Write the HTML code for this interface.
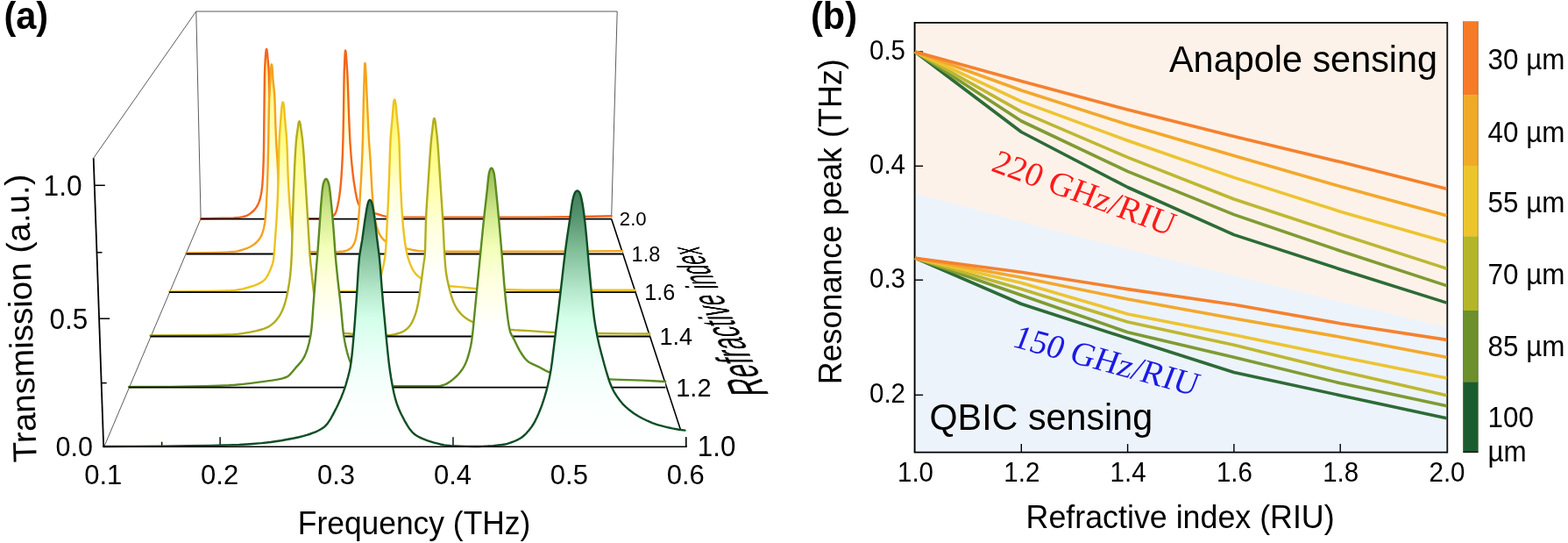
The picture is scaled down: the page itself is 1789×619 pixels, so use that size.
<!DOCTYPE html>
<html lang="en"><head><meta charset="utf-8"><title>Figure</title>
<style>
html,body{margin:0;padding:0;background:#fff;}
#fig{position:relative;width:1789px;height:619px;overflow:hidden;background:#fff;}
#fig svg{position:absolute;left:0;top:0;}
.pt{position:absolute;left:0;top:0;margin:0;padding:0;white-space:nowrap;color:#000;font-family:"Liberation Sans", Arial, Helvetica, sans-serif;transform-origin:0 0;}
</style></head><body>
<div id="fig">
<svg width="1789" height="619" viewBox="0 0 1789 619">
<rect width="1789" height="619" fill="#fff"/>
<path d="M106.7 180.2 L223.8 13 L704.2 13 L697.6 249.4 M223.8 13 L229.1 249.4 L118.8 509.2" stroke="#4a4a4a" stroke-width="0.9" fill="none"/>
<g stroke="#000" fill="none" stroke-linecap="butt">
<path d="M106.7 180.2 L118.2 509.2" stroke-width="1.8"/>
<path d="M117.4 509.2 L783.5 509.2" stroke-width="1.6"/>
<path d="M697.6 249.4 L782.8 509.2" stroke-width="1.6"/>
<path d="M107.8 211.3 h12" stroke-width="1.5"/>
<path d="M110.5 287.8 h6" stroke-width="1.5"/>
<path d="M113.1 363.2 h12" stroke-width="1.5"/>
<path d="M115.7 436.6 h6" stroke-width="1.5"/>
<path d="M184.66 509.2 v-5.5" stroke-width="1.4"/>
<path d="M251.12 509.2 v-11" stroke-width="1.4"/>
<path d="M317.58 509.2 v-5.5" stroke-width="1.4"/>
<path d="M384.04 509.2 v-11" stroke-width="1.4"/>
<path d="M450.5 509.2 v-5.5" stroke-width="1.4"/>
<path d="M516.96 509.2 v-11" stroke-width="1.4"/>
<path d="M583.42 509.2 v-5.5" stroke-width="1.4"/>
<path d="M649.88 509.2 v-11" stroke-width="1.4"/>
<path d="M716.34 509.2 v-5.5" stroke-width="1.4"/>
<path d="M782.8 509.2 v-11" stroke-width="1.4"/>
</g>
<defs>
<linearGradient id="g20" gradientUnits="userSpaceOnUse" x1="0" y1="56" x2="0" y2="249.4"><stop offset="0" stop-color="#ffe880"/><stop offset="0.3" stop-color="#ffffb0"/><stop offset="0.6" stop-color="#fffff2"/><stop offset="0.8" stop-color="#ffffff"/><stop offset="1" stop-color="#ffffff"/></linearGradient>
<linearGradient id="g18" gradientUnits="userSpaceOnUse" x1="0" y1="72" x2="0" y2="289.2"><stop offset="0" stop-color="#ffe870"/><stop offset="0.3" stop-color="#ffffa8"/><stop offset="0.6" stop-color="#fffff2"/><stop offset="0.8" stop-color="#ffffff"/><stop offset="1" stop-color="#ffffff"/></linearGradient>
<linearGradient id="g16" gradientUnits="userSpaceOnUse" x1="0" y1="113.4" x2="0" y2="332.8"><stop offset="0" stop-color="#ffee60"/><stop offset="0.25" stop-color="#ffff90"/><stop offset="0.5" stop-color="#ffffe0"/><stop offset="0.72" stop-color="#ffffff"/><stop offset="1" stop-color="#ffffff"/></linearGradient>
<linearGradient id="g14" gradientUnits="userSpaceOnUse" x1="0" y1="134.9" x2="0" y2="383.2"><stop offset="0" stop-color="#f4f268"/><stop offset="0.25" stop-color="#ffff98"/><stop offset="0.5" stop-color="#ffffdc"/><stop offset="0.72" stop-color="#ffffff"/><stop offset="1" stop-color="#ffffff"/></linearGradient>
<linearGradient id="g12" gradientUnits="userSpaceOnUse" x1="0" y1="191.6" x2="0" y2="441.3"><stop offset="0" stop-color="#98bc52"/><stop offset="0.2" stop-color="#cfe88c"/><stop offset="0.36" stop-color="#f2ffb8"/><stop offset="0.52" stop-color="#ffffe0"/><stop offset="0.72" stop-color="#ffffff"/><stop offset="1" stop-color="#ffffff"/></linearGradient>
<linearGradient id="g10" gradientUnits="userSpaceOnUse" x1="0" y1="217.5" x2="0" y2="509.2"><stop offset="0" stop-color="#3f8059"/><stop offset="0.1" stop-color="#56936f"/><stop offset="0.22" stop-color="#7dbb95"/><stop offset="0.39" stop-color="#b5e8cc"/><stop offset="0.5" stop-color="#d4ffea"/><stop offset="0.67" stop-color="#eefff9"/><stop offset="0.83" stop-color="#fbfffe"/><stop offset="1" stop-color="#ffffff"/></linearGradient>
</defs>
<path d="M229 249.2 L254.5 248.81 L266.5 248.42 L271.06 248.02 L274.08 247.62 L277.01 247.12 L279.81 246.48 L281.19 245.96 L283.89 244.49 L285.18 243.62 L287.58 241.75 L289.75 239.75 L291.74 237.41 L292.62 236.16 L294.07 233.61 L295.31 230.87 L296.34 228 L297 225.6 L297.74 222.19 L298.51 217.74 L298.91 214.75 L299.35 210.27 L300.04 199.79 L300.63 184.8 L301.03 168.31 L301.77 97.81 L302.01 82.81 L302.37 73.82 L302.98 63.34 L303.62 57.37 L303.87 56.32 L304.1 56 L304.33 56.32 L304.57 57.28 L304.96 60.39 L306.42 76.84 L306.82 82.82 L307.18 96.31 L307.74 132.31 L308.19 148.81 L308.73 163.8 L309.28 175.78 L310.02 187.76 L311 200 L311.9 208.68 L313.12 217.6 L314.4 225.03 L315.74 230.93 L317.05 235.15 L318.24 237.98 L318.96 239.39 L320.63 241.97 L321.55 243.06 L322.55 243.98 L323.71 244.88 L325.02 245.72 L326.42 246.48 L327.86 247.1 L329.31 247.55 L330.72 247.82 L336.61 248.63 L341.17 249 L345 249.1 L365.2 249.1 L369.78 248.9 L372.8 248.58 L376 248.1 L377.1 247.81 L378.57 247.16 L379.96 246.31 L381.14 245.34 L381.8 244.6 L382.65 243.19 L383.23 241.87 L384.2 238.87 L385.29 234.3 L386.44 228.44 L387.37 222.5 L388.13 216.52 L388.87 209.06 L389.48 201.58 L390.08 192.6 L390.88 176.11 L391.48 156.62 L391.99 130.5 L392.42 96.63 L392.71 81.63 L393.56 62.15 L393.84 58.62 L393.97 57.86 L394.1 57.6 L394.28 57.86 L394.46 58.62 L394.84 61.9 L395.81 75.36 L396.35 84.35 L396.85 96.33 L398.37 139.81 L399.43 162.28 L400.78 180.23 L401.6 189.2 L402.4 196.65 L403.73 207.07 L405.67 219.05 L406.83 225.08 L407.95 229.38 L408.87 232.07 L409.43 233.39 L410.17 234.76 L411.05 236.13 L412.04 237.42 L413.1 238.57 L414.21 239.5 L415 240 L416.55 240.69 L419.29 241.54 L429.4 243.7 L435.73 245.69 L438.63 246.42 L440.7 246.7 L444.53 246.94 L455.05 247.33 L504.56 247.59 L609.56 247.58 L630.56 247.4 L663.56 246.95 L697.6 246.2 L697.6 249.4 L229 249.4 Z" fill="url(#g20)" stroke="none"/>
<path d="M229 249.2 L254.5 248.81 L266.5 248.42 L271.06 248.02 L274.08 247.62 L277.01 247.12 L279.81 246.48 L281.19 245.96 L283.89 244.49 L285.18 243.62 L287.58 241.75 L289.75 239.75 L291.74 237.41 L292.62 236.16 L294.07 233.61 L295.31 230.87 L296.34 228 L297 225.6 L297.74 222.19 L298.51 217.74 L298.91 214.75 L299.35 210.27 L300.04 199.79 L300.63 184.8 L301.03 168.31 L301.77 97.81 L302.01 82.81 L302.37 73.82 L302.98 63.34 L303.62 57.37 L303.87 56.32 L304.1 56 L304.33 56.32 L304.57 57.28 L304.96 60.39 L306.42 76.84 L306.82 82.82 L307.18 96.31 L307.74 132.31 L308.19 148.81 L308.73 163.8 L309.28 175.78 L310.02 187.76 L311 200 L311.9 208.68 L313.12 217.6 L314.4 225.03 L315.74 230.93 L317.05 235.15 L318.24 237.98 L318.96 239.39 L320.63 241.97 L321.55 243.06 L322.55 243.98 L323.71 244.88 L325.02 245.72 L326.42 246.48 L327.86 247.1 L329.31 247.55 L330.72 247.82 L336.61 248.63 L341.17 249 L345 249.1 L365.2 249.1 L369.78 248.9 L372.8 248.58 L376 248.1 L377.1 247.81 L378.57 247.16 L379.96 246.31 L381.14 245.34 L381.8 244.6 L382.65 243.19 L383.23 241.87 L384.2 238.87 L385.29 234.3 L386.44 228.44 L387.37 222.5 L388.13 216.52 L388.87 209.06 L389.48 201.58 L390.08 192.6 L390.88 176.11 L391.48 156.62 L391.99 130.5 L392.42 96.63 L392.71 81.63 L393.56 62.15 L393.84 58.62 L393.97 57.86 L394.1 57.6 L394.28 57.86 L394.46 58.62 L394.84 61.9 L395.81 75.36 L396.35 84.35 L396.85 96.33 L398.37 139.81 L399.43 162.28 L400.78 180.23 L401.6 189.2 L402.4 196.65 L403.73 207.07 L405.67 219.05 L406.83 225.08 L407.95 229.38 L408.87 232.07 L409.43 233.39 L410.17 234.76 L411.05 236.13 L412.04 237.42 L413.1 238.57 L414.21 239.5 L415 240 L416.55 240.69 L419.29 241.54 L429.4 243.7 L435.73 245.69 L438.63 246.42 L440.7 246.7 L444.53 246.94 L455.05 247.33 L504.56 247.59 L609.56 247.58 L630.56 247.4 L663.56 246.95 L697.6 246.2" fill="none" stroke="#f4661b" stroke-width="2.4" stroke-linejoin="round" stroke-linecap="round"/>
<path d="M229 249.7 L697.6 249.7" stroke="#000" stroke-width="1.8" fill="none"/>
<path d="M212.5 288.5 L235 288.2 L248.52 287.91 L257.54 287.6 L266.46 287.07 L269.44 286.63 L272.41 285.98 L276.8 284.73 L282.39 282.76 L285.16 281.48 L286.53 280.74 L289.15 279.1 L290.37 278.21 L292.4 276.5 L294.56 274.19 L296.42 271.7 L297.25 270.38 L298.66 267.67 L299.65 264.95 L300.47 262.12 L301.18 259.18 L302.03 254.68 L302.46 251.67 L302.93 247.22 L303.81 235.24 L304.82 214.25 L305.56 191.76 L306.29 158.77 L306.79 125.77 L307.08 115.28 L308.92 80.83 L309.46 74.84 L309.61 74.06 L309.9 73.4 L310.19 74.06 L310.51 76.29 L310.88 80.77 L311.46 91.25 L312.8 103.19 L313.19 107.67 L313.63 118.15 L314.28 140.65 L315.14 161.63 L315.46 167.62 L316.5 182.6 L317.43 203.57 L318.15 217.05 L318.71 226.03 L319.4 235 L320.61 246.95 L321.2 251.4 L321.93 255.86 L322.83 260.29 L324 265 L325.24 268.99 L326.37 271.83 L327.69 274.47 L329.32 276.88 L331.41 279.18 L333.76 281.16 L336.2 282.71 L338.91 284.08 L340.33 284.68 L343.24 285.64 L344.69 285.95 L347.6 286.37 L353.59 287.02 L358.12 287.27 L380.63 287.3 L386.69 287.03 L391.9 286.5 L394.06 286.03 L395.56 285.51 L397.04 284.85 L398.43 284.09 L399.69 283.27 L401 282.2 L401.68 281.48 L402.53 280.33 L404.05 277.61 L405.22 274.63 L406.32 270.35 L407.38 264.49 L408.18 258.47 L409.1 249.45 L409.83 240.48 L412.17 201.54 L413.43 174.57 L414 156.58 L414.82 114.59 L415.91 78.6 L416.12 74.11 L416.25 72.6 L416.4 72 L416.67 72.72 L416.88 74.3 L417.39 81.79 L420.25 146.23 L420.96 160 L422.66 183.65 L424.4 216.6 L425.38 230.1 L426.4 240.55 L427.4 247.95 L428.25 252.41 L429.76 258.29 L431.66 263.91 L432.88 266.65 L433.62 268.01 L435.29 270.61 L437.3 273 L439.36 274.78 L441.95 276.47 L444.66 277.85 L448.76 279.46 L453.06 280.81 L458.95 282.32 L470.71 284.95 L475.16 285.73 L479.2 286.1 L494.59 286.56 L508.6 286.7 L623.61 286.66 L710.1 286.1 L710.8 289.2 L212.5 289.2 Z" fill="url(#g18)" stroke="none"/>
<path d="M212.5 288.5 L235 288.2 L248.52 287.91 L257.54 287.6 L266.46 287.07 L269.44 286.63 L272.41 285.98 L276.8 284.73 L282.39 282.76 L285.16 281.48 L286.53 280.74 L289.15 279.1 L290.37 278.21 L292.4 276.5 L294.56 274.19 L296.42 271.7 L297.25 270.38 L298.66 267.67 L299.65 264.95 L300.47 262.12 L301.18 259.18 L302.03 254.68 L302.46 251.67 L302.93 247.22 L303.81 235.24 L304.82 214.25 L305.56 191.76 L306.29 158.77 L306.79 125.77 L307.08 115.28 L308.92 80.83 L309.46 74.84 L309.61 74.06 L309.9 73.4 L310.19 74.06 L310.51 76.29 L310.88 80.77 L311.46 91.25 L312.8 103.19 L313.19 107.67 L313.63 118.15 L314.28 140.65 L315.14 161.63 L315.46 167.62 L316.5 182.6 L317.43 203.57 L318.15 217.05 L318.71 226.03 L319.4 235 L320.61 246.95 L321.2 251.4 L321.93 255.86 L322.83 260.29 L324 265 L325.24 268.99 L326.37 271.83 L327.69 274.47 L329.32 276.88 L331.41 279.18 L333.76 281.16 L336.2 282.71 L338.91 284.08 L340.33 284.68 L343.24 285.64 L344.69 285.95 L347.6 286.37 L353.59 287.02 L358.12 287.27 L380.63 287.3 L386.69 287.03 L391.9 286.5 L394.06 286.03 L395.56 285.51 L397.04 284.85 L398.43 284.09 L399.69 283.27 L401 282.2 L401.68 281.48 L402.53 280.33 L404.05 277.61 L405.22 274.63 L406.32 270.35 L407.38 264.49 L408.18 258.47 L409.1 249.45 L409.83 240.48 L412.17 201.54 L413.43 174.57 L414 156.58 L414.82 114.59 L415.91 78.6 L416.12 74.11 L416.25 72.6 L416.4 72 L416.67 72.72 L416.88 74.3 L417.39 81.79 L420.25 146.23 L420.96 160 L422.66 183.65 L424.4 216.6 L425.38 230.1 L426.4 240.55 L427.4 247.95 L428.25 252.41 L429.76 258.29 L431.66 263.91 L432.88 266.65 L433.62 268.01 L435.29 270.61 L437.3 273 L439.36 274.78 L441.95 276.47 L444.66 277.85 L448.76 279.46 L453.06 280.81 L458.95 282.32 L470.71 284.95 L475.16 285.73 L479.2 286.1 L494.59 286.56 L508.6 286.7 L623.61 286.66 L710.1 286.1" fill="none" stroke="#f5a31d" stroke-width="2.4" stroke-linejoin="round" stroke-linecap="round"/>
<path d="M212.5 289.5 L710.8 289.5" stroke="#000" stroke-width="1.8" fill="none"/>
<path d="M193 332.4 L223 332.28 L241.06 332 L253.07 331.64 L263.5 331.19 L267.96 330.88 L270.94 330.49 L276.89 329.32 L282.74 327.77 L289.86 325.55 L294.23 323.81 L297.03 322.42 L298.34 321.66 L299.56 320.86 L301.4 319.4 L302.63 318.12 L303.52 316.97 L305.17 314.39 L306.64 311.6 L308.2 308.1 L310.12 303.2 L311.06 300.31 L311.77 297.39 L312 296 L312.82 288.53 L315.49 251.06 L316.48 233.09 L317.53 205 L318.36 168.61 L318.87 155.13 L320.76 129.7 L321.28 123.72 L321.63 120.74 L322.13 117.76 L322.32 117.14 L322.8 116.4 L323.26 117.14 L323.41 117.69 L323.9 120.66 L324.17 123.1 L325.25 137.11 L327 156.53 L327.65 170.01 L328.64 201.5 L329.48 217.98 L330.36 231.45 L331.36 244.91 L332.41 256.87 L334.01 273.29 L334.81 280.76 L335.74 288.19 L336.86 295.63 L337.94 301.59 L338.91 305.99 L340.08 310.26 L341.65 314.58 L342.98 317.41 L344.51 320.02 L346.22 322.24 L348.36 324.23 L349.61 325.16 L352.3 326.79 L355.04 328.01 L357.8 328.95 L360.7 329.8 L365.17 330.81 L368.18 331.25 L380.1 331.9 L393.64 332.26 L404.19 332.26 L410.31 332.07 L414.83 331.82 L420 331.4 L422.07 330.98 L423.58 330.44 L425.08 329.74 L426.51 328.92 L427.82 328.03 L428.96 327.09 L429.88 326.15 L430.61 325.17 L431.9 322.83 L433 320.08 L433.96 317.06 L435.19 312.33 L437.95 300.48 L439.03 294.55 L439.59 290.1 L440.22 282.65 L440.79 273.68 L442.96 228.69 L444.02 203.21 L445 171.72 L445.58 158.24 L446.01 152.26 L447.66 134.33 L448.82 119.56 L449.45 114.9 L449.67 114.08 L450.1 113.4 L450.61 114.08 L450.76 114.52 L451.34 117.48 L451.73 120.46 L452.95 133.91 L454.48 148.84 L455.01 154.81 L455.34 160 L455.68 168.28 L456.73 204.27 L458.02 231.25 L458.88 244.72 L459.81 256.68 L460.87 267.14 L461.99 276.06 L463.14 283.48 L464.5 290 L465.92 295.16 L467.93 300.88 L470.1 305.8 L471.87 308.92 L473.65 311.38 L474.7 312.6 L476.76 314.59 L477.95 315.56 L479.19 316.43 L481.74 317.85 L484.45 319.08 L487.28 320.17 L490.17 321.14 L494.54 322.38 L498.88 323.45 L503.29 324.41 L509.22 325.49 L514.3 326.2 L527.12 327.34 L537.56 328.51 L542.04 328.87 L554.02 329.38 L597.51 330.69 L724.3 330.7 L724.8 332.8 L193 332.8 Z" fill="url(#g16)" stroke="none"/>
<path d="M193 332.4 L223 332.28 L241.06 332 L253.07 331.64 L263.5 331.19 L267.96 330.88 L270.94 330.49 L276.89 329.32 L282.74 327.77 L289.86 325.55 L294.23 323.81 L297.03 322.42 L298.34 321.66 L299.56 320.86 L301.4 319.4 L302.63 318.12 L303.52 316.97 L305.17 314.39 L306.64 311.6 L308.2 308.1 L310.12 303.2 L311.06 300.31 L311.77 297.39 L312 296 L312.82 288.53 L315.49 251.06 L316.48 233.09 L317.53 205 L318.36 168.61 L318.87 155.13 L320.76 129.7 L321.28 123.72 L321.63 120.74 L322.13 117.76 L322.32 117.14 L322.8 116.4 L323.26 117.14 L323.41 117.69 L323.9 120.66 L324.17 123.1 L325.25 137.11 L327 156.53 L327.65 170.01 L328.64 201.5 L329.48 217.98 L330.36 231.45 L331.36 244.91 L332.41 256.87 L334.01 273.29 L334.81 280.76 L335.74 288.19 L336.86 295.63 L337.94 301.59 L338.91 305.99 L340.08 310.26 L341.65 314.58 L342.98 317.41 L344.51 320.02 L346.22 322.24 L348.36 324.23 L349.61 325.16 L352.3 326.79 L355.04 328.01 L357.8 328.95 L360.7 329.8 L365.17 330.81 L368.18 331.25 L380.1 331.9 L393.64 332.26 L404.19 332.26 L410.31 332.07 L414.83 331.82 L420 331.4 L422.07 330.98 L423.58 330.44 L425.08 329.74 L426.51 328.92 L427.82 328.03 L428.96 327.09 L429.88 326.15 L430.61 325.17 L431.9 322.83 L433 320.08 L433.96 317.06 L435.19 312.33 L437.95 300.48 L439.03 294.55 L439.59 290.1 L440.22 282.65 L440.79 273.68 L442.96 228.69 L444.02 203.21 L445 171.72 L445.58 158.24 L446.01 152.26 L447.66 134.33 L448.82 119.56 L449.45 114.9 L449.67 114.08 L450.1 113.4 L450.61 114.08 L450.76 114.52 L451.34 117.48 L451.73 120.46 L452.95 133.91 L454.48 148.84 L455.01 154.81 L455.34 160 L455.68 168.28 L456.73 204.27 L458.02 231.25 L458.88 244.72 L459.81 256.68 L460.87 267.14 L461.99 276.06 L463.14 283.48 L464.5 290 L465.92 295.16 L467.93 300.88 L470.1 305.8 L471.87 308.92 L473.65 311.38 L474.7 312.6 L476.76 314.59 L477.95 315.56 L479.19 316.43 L481.74 317.85 L484.45 319.08 L487.28 320.17 L490.17 321.14 L494.54 322.38 L498.88 323.45 L503.29 324.41 L509.22 325.49 L514.3 326.2 L527.12 327.34 L537.56 328.51 L542.04 328.87 L554.02 329.38 L597.51 330.69 L724.3 330.7" fill="none" stroke="#eec21f" stroke-width="2.4" stroke-linejoin="round" stroke-linecap="round"/>
<path d="M193 333.1 L724.8 333.1" stroke="#000" stroke-width="1.8" fill="none"/>
<path d="M171.5 382.5 L221 382.29 L242.02 381.97 L254.02 381.64 L265.98 381.16 L270.47 380.83 L276.45 380.12 L285.35 378.67 L292.73 377.17 L298.67 375.52 L301.52 374.53 L304.24 373.43 L306 372.6 L308.03 371.43 L309.26 370.58 L311.65 368.64 L312.8 367.57 L314.95 365.32 L317.7 361.84 L320.04 358.06 L322.08 353.95 L323.78 349.72 L325.57 344.05 L327.05 338.21 L328.57 330.83 L330.11 321.96 L331.11 314.52 L332.11 302.58 L332.78 290.59 L333.18 278.6 L333.87 251.6 L334.8 223.12 L336.08 191.64 L336.99 173.65 L337.82 161.69 L338.42 155.73 L340.53 140.87 L340.88 139.37 L341.19 138.57 L341.5 138.3 L341.83 138.57 L342.16 139.37 L342.84 142.7 L344.95 157.55 L345.94 167.99 L346.91 181.46 L349.83 227.88 L353.34 287.78 L354.21 298.24 L356.69 322.12 L357.55 329.57 L358.36 335.51 L359.29 341.45 L360.41 347.35 L361.78 353.2 L363.04 357.63 L364.57 361.9 L365.77 364.55 L367.23 367.07 L369.11 369.55 L370.15 370.72 L372.39 372.82 L374 374 L375.99 375.17 L378.73 376.49 L380.17 377.07 L383.1 378.03 L387.45 378.97 L393.39 379.86 L400 380.5 L408.38 381 L433.89 382.16 L439.87 382.3 L442.86 382.23 L445.88 381.91 L448.9 381.4 L451.88 380.73 L456.6 379.4 L458.89 378.49 L460.26 377.77 L462.87 376.05 L465.16 374.13 L467.07 372.03 L468.8 369.57 L470.35 366.87 L471.69 364.09 L473.32 359.96 L474.26 357.12 L475.5 352.75 L477.14 345.4 L478.38 338.02 L483.36 300.83 L484.48 293.4 L484.77 290.42 L485.13 282.95 L485.81 255.94 L486.37 242.45 L487.17 228.98 L490.43 179.57 L491.43 166.11 L492.39 155.66 L494.5 137.78 L494.81 136.13 L495.11 135.21 L495.4 134.9 L495.75 135.21 L496.1 136.13 L496.44 137.67 L496.89 140.53 L498.67 155.43 L499.73 167.37 L504.8 243.71 L505.48 255.69 L506.78 282.66 L507.49 294.64 L508.16 303.63 L508.98 311.06 L510.3 318.46 L512.59 328.71 L514.51 336 L516.38 341.68 L517.47 344.46 L518.72 347.24 L520.87 351.24 L522.2 353.3 L523.36 354.87 L526.39 358.26 L528.63 360.34 L530.96 362.22 L534.7 364.71 L537.38 366.14 L538.74 366.75 L542.91 368.3 L545.78 369.2 L550.16 370.39 L560.42 372.62 L570.78 374.49 L579.72 375.67 L587.18 376.26 L603.66 377.13 L624.62 378.6 L630.61 378.91 L638.1 379.16 L656.09 379.61 L677.09 379.96 L714.59 380.37 L741.4 380.5 L741.4 383.2 L171.5 383.2 Z" fill="url(#g14)" stroke="none"/>
<path d="M171.5 382.5 L221 382.29 L242.02 381.97 L254.02 381.64 L265.98 381.16 L270.47 380.83 L276.45 380.12 L285.35 378.67 L292.73 377.17 L298.67 375.52 L301.52 374.53 L304.24 373.43 L306 372.6 L308.03 371.43 L309.26 370.58 L311.65 368.64 L312.8 367.57 L314.95 365.32 L317.7 361.84 L320.04 358.06 L322.08 353.95 L323.78 349.72 L325.57 344.05 L327.05 338.21 L328.57 330.83 L330.11 321.96 L331.11 314.52 L332.11 302.58 L332.78 290.59 L333.18 278.6 L333.87 251.6 L334.8 223.12 L336.08 191.64 L336.99 173.65 L337.82 161.69 L338.42 155.73 L340.53 140.87 L340.88 139.37 L341.19 138.57 L341.5 138.3 L341.83 138.57 L342.16 139.37 L342.84 142.7 L344.95 157.55 L345.94 167.99 L346.91 181.46 L349.83 227.88 L353.34 287.78 L354.21 298.24 L356.69 322.12 L357.55 329.57 L358.36 335.51 L359.29 341.45 L360.41 347.35 L361.78 353.2 L363.04 357.63 L364.57 361.9 L365.77 364.55 L367.23 367.07 L369.11 369.55 L370.15 370.72 L372.39 372.82 L374 374 L375.99 375.17 L378.73 376.49 L380.17 377.07 L383.1 378.03 L387.45 378.97 L393.39 379.86 L400 380.5 L408.38 381 L433.89 382.16 L439.87 382.3 L442.86 382.23 L445.88 381.91 L448.9 381.4 L451.88 380.73 L456.6 379.4 L458.89 378.49 L460.26 377.77 L462.87 376.05 L465.16 374.13 L467.07 372.03 L468.8 369.57 L470.35 366.87 L471.69 364.09 L473.32 359.96 L474.26 357.12 L475.5 352.75 L477.14 345.4 L478.38 338.02 L483.36 300.83 L484.48 293.4 L484.77 290.42 L485.13 282.95 L485.81 255.94 L486.37 242.45 L487.17 228.98 L490.43 179.57 L491.43 166.11 L492.39 155.66 L494.5 137.78 L494.81 136.13 L495.11 135.21 L495.4 134.9 L495.75 135.21 L496.1 136.13 L496.44 137.67 L496.89 140.53 L498.67 155.43 L499.73 167.37 L504.8 243.71 L505.48 255.69 L506.78 282.66 L507.49 294.64 L508.16 303.63 L508.98 311.06 L510.3 318.46 L512.59 328.71 L514.51 336 L516.38 341.68 L517.47 344.46 L518.72 347.24 L520.87 351.24 L522.2 353.3 L523.36 354.87 L526.39 358.26 L528.63 360.34 L530.96 362.22 L534.7 364.71 L537.38 366.14 L538.74 366.75 L542.91 368.3 L545.78 369.2 L550.16 370.39 L560.42 372.62 L570.78 374.49 L579.72 375.67 L587.18 376.26 L603.66 377.13 L624.62 378.6 L630.61 378.91 L638.1 379.16 L656.09 379.61 L677.09 379.96 L714.59 380.37 L741.4 380.5" fill="none" stroke="#b2ad1c" stroke-width="2.4" stroke-linejoin="round" stroke-linecap="round"/>
<path d="M171.5 383.5 L741.4 383.5" stroke="#000" stroke-width="1.8" fill="none"/>
<path d="M147 441 L195 440.83 L219.01 440.56 L234.01 440.21 L249.01 439.73 L260.98 439.26 L268.45 438.78 L277.42 437.93 L286.37 436.86 L310.5 433.59 L316.64 432.59 L322.41 431.31 L326.5 430 L327.53 429.53 L328.69 428.8 L329.81 427.91 L330.91 426.88 L333.01 424.56 L337.04 419.64 L343.12 412.83 L344.95 410.45 L346.51 407.97 L347.8 405.35 L348.98 402.61 L350.04 399.77 L351 396.87 L352.58 391.06 L354.14 383.72 L355.27 376.29 L356.13 367.35 L357.39 349.37 L358.9 329.93 L362.58 285.08 L364.45 259.65 L366.05 235.7 L367.45 219.23 L368.16 213.27 L368.71 210 L369.01 208.89 L370.03 206.16 L370.68 204.96 L371.34 204.24 L372 204 L372.66 204.24 L373.32 204.96 L373.98 206.16 L375.02 208.98 L375.29 210 L375.89 213.36 L376.66 219.32 L378.48 237.25 L379.69 250.7 L380.89 265.65 L382.45 288.1 L383.63 301.55 L385.45 319.46 L388.72 347.77 L391.04 373.18 L391.72 379.13 L392.34 383.58 L393.36 389.5 L394.56 395.39 L395.95 401.21 L397.18 405.57 L398.6 409.86 L400.77 415.43 L402.69 419.67 L404.88 423.74 L406.52 426.19 L407.4 427.31 L409.33 429.35 L410.44 430.34 L412.89 432.22 L415.54 433.9 L416.9 434.64 L420 436 L425.25 437.66 L429.7 438.71 L434.19 439.42 L441.65 440.07 L447.66 440.3 L500.16 440.2 L501.65 440.07 L503.14 439.78 L506.04 438.99 L507.43 438.49 L508.8 437.85 L511.43 436.34 L513.94 434.72 L516.34 432.89 L518.62 430.95 L520.83 428.9 L522.92 426.74 L524.85 424.47 L526.69 422.07 L528.36 419.57 L529.83 416.98 L531.15 414.27 L532.31 411.49 L533.33 408.68 L535.06 402.92 L537.16 394.16 L538.18 388.26 L539.46 377.86 L550.88 261.39 L552.59 244.98 L555.8 216.6 L557.12 203.2 L557.84 198 L558.78 194.39 L559.5 192.62 L560.05 191.86 L560.6 191.6 L561.23 191.86 L561.86 192.62 L562.49 193.9 L563.28 196.21 L563.68 197.65 L563.95 199.12 L564.77 205.04 L567.48 231.94 L569.95 258.83 L572.62 290.21 L574.97 320.12 L576.7 339.55 L578.46 355.95 L579.6 364.94 L580.51 370.93 L581.38 375.32 L582.09 378.16 L582.55 379.54 L583.14 380.89 L586.7 387.3 L590.73 395.69 L592.84 399.64 L596.09 404.75 L598.84 408.47 L600.85 410.68 L601.91 411.65 L603.02 412.51 L604.22 413.29 L606.85 414.66 L613.9 417.8 L621.82 422.17 L624.51 423.49 L627.26 424.53 L631.52 425.7 L635.91 426.72 L641.86 427.85 L649.33 428.92 L659.73 430.03 L670.2 430.94 L682.19 431.77 L700.18 432.64 L733.17 433.63 L745.15 434.19 L759.2 435 L759.2 441.3 L147 441.3 Z" fill="url(#g12)" stroke="none"/>
<path d="M147 441 L195 440.83 L219.01 440.56 L234.01 440.21 L249.01 439.73 L260.98 439.26 L268.45 438.78 L277.42 437.93 L286.37 436.86 L310.5 433.59 L316.64 432.59 L322.41 431.31 L326.5 430 L327.53 429.53 L328.69 428.8 L329.81 427.91 L330.91 426.88 L333.01 424.56 L337.04 419.64 L343.12 412.83 L344.95 410.45 L346.51 407.97 L347.8 405.35 L348.98 402.61 L350.04 399.77 L351 396.87 L352.58 391.06 L354.14 383.72 L355.27 376.29 L356.13 367.35 L357.39 349.37 L358.9 329.93 L362.58 285.08 L364.45 259.65 L366.05 235.7 L367.45 219.23 L368.16 213.27 L368.71 210 L369.01 208.89 L370.03 206.16 L370.68 204.96 L371.34 204.24 L372 204 L372.66 204.24 L373.32 204.96 L373.98 206.16 L375.02 208.98 L375.29 210 L375.89 213.36 L376.66 219.32 L378.48 237.25 L379.69 250.7 L380.89 265.65 L382.45 288.1 L383.63 301.55 L385.45 319.46 L388.72 347.77 L391.04 373.18 L391.72 379.13 L392.34 383.58 L393.36 389.5 L394.56 395.39 L395.95 401.21 L397.18 405.57 L398.6 409.86 L400.77 415.43 L402.69 419.67 L404.88 423.74 L406.52 426.19 L407.4 427.31 L409.33 429.35 L410.44 430.34 L412.89 432.22 L415.54 433.9 L416.9 434.64 L420 436 L425.25 437.66 L429.7 438.71 L434.19 439.42 L441.65 440.07 L447.66 440.3 L500.16 440.2 L501.65 440.07 L503.14 439.78 L506.04 438.99 L507.43 438.49 L508.8 437.85 L511.43 436.34 L513.94 434.72 L516.34 432.89 L518.62 430.95 L520.83 428.9 L522.92 426.74 L524.85 424.47 L526.69 422.07 L528.36 419.57 L529.83 416.98 L531.15 414.27 L532.31 411.49 L533.33 408.68 L535.06 402.92 L537.16 394.16 L538.18 388.26 L539.46 377.86 L550.88 261.39 L552.59 244.98 L555.8 216.6 L557.12 203.2 L557.84 198 L558.78 194.39 L559.5 192.62 L560.05 191.86 L560.6 191.6 L561.23 191.86 L561.86 192.62 L562.49 193.9 L563.28 196.21 L563.68 197.65 L563.95 199.12 L564.77 205.04 L567.48 231.94 L569.95 258.83 L572.62 290.21 L574.97 320.12 L576.7 339.55 L578.46 355.95 L579.6 364.94 L580.51 370.93 L581.38 375.32 L582.09 378.16 L582.55 379.54 L583.14 380.89 L586.7 387.3 L590.73 395.69 L592.84 399.64 L596.09 404.75 L598.84 408.47 L600.85 410.68 L601.91 411.65 L603.02 412.51 L604.22 413.29 L606.85 414.66 L613.9 417.8 L621.82 422.17 L624.51 423.49 L627.26 424.53 L631.52 425.7 L635.91 426.72 L641.86 427.85 L649.33 428.92 L659.73 430.03 L670.2 430.94 L682.19 431.77 L700.18 432.64 L733.17 433.63 L745.15 434.19 L759.2 435" fill="none" stroke="#5c8a20" stroke-width="2.4" stroke-linejoin="round" stroke-linecap="round"/>
<path d="M147 441.6 L759.2 441.6" stroke="#000" stroke-width="1.8" fill="none"/>
<path d="M118.5 509 L148.5 508.91 L186 508.63 L216 508.32 L240 507.9 L259.49 507.41 L272.98 506.94 L284.97 506.23 L298.42 505.14 L308.85 504.01 L320.74 502.23 L335.49 499.51 L341.39 498.24 L345.78 497.15 L350.1 495.93 L353 495 L357.22 493.48 L360.12 492.29 L362.96 490.99 L365.66 489.56 L368.14 488.01 L370.31 486.33 L372.27 484.39 L374.11 482.14 L375.83 479.67 L377.46 477.03 L379.74 472.89 L383.95 464.74 L385.92 460.71 L387.79 456.6 L389.55 452.43 L391.73 446.82 L393.24 442.59 L394.64 438.32 L397 430 L398.56 423.82 L399.53 419.42 L400.46 413.52 L401.56 404.6 L402.45 395.63 L404.03 377.68 L405.19 362.73 L406.99 337.29 L408.78 307.32 L409.92 293.89 L410.74 287.96 L413.27 273.16 L416.34 250.86 L418.47 237.52 L419.38 233.12 L420.12 230.52 L420.59 229.38 L421.06 228.56 L421.53 228.06 L422 227.9 L422.5 228.06 L423.12 228.72 L423.81 230.05 L424.33 231.46 L425.06 234.36 L425.92 238.77 L427.07 246.2 L427.88 252.14 L430.29 273 L432.38 289.38 L433 295 L433.71 302.81 L435.87 331.23 L437.4 349.17 L441.17 389.49 L442.52 402.93 L443.69 413.36 L444.85 422.28 L445.99 429.7 L447.82 440.06 L449.31 447.44 L451.07 454.71 L452.81 460.41 L454.96 466.05 L457.44 471.57 L461.59 479.54 L464.72 484.97 L466.42 487.59 L468.22 490.07 L470.13 492.33 L471.13 493.35 L473 495 L474.33 495.97 L476.79 497.51 L479.47 498.92 L482.3 500.21 L486.66 501.9 L489.54 502.86 L495.24 504.56 L502.57 506.45 L507.03 507.32 L510 507.73 L514.45 508.09 L524.91 508.61 L532.43 508.86 L539.95 508.99 L545.96 508.98 L550.48 508.85 L556.52 508.54 L562.54 508.08 L573 507 L575.82 506.55 L578.79 505.86 L581.75 504.97 L584.67 503.92 L587.5 502.75 L591.51 500.81 L593.96 499.43 L596.34 497.74 L598.65 495.77 L600.85 493.58 L603.91 490.05 L606.5 486.6 L608.2 484.03 L610.43 480.14 L612.47 476.07 L614.35 471.89 L616.61 466.31 L618.69 460.71 L620.13 456.44 L621.93 450.69 L623.55 444.89 L625.02 439.08 L626.66 431.76 L627.8 425.86 L628.8 419.95 L629.87 412.53 L637.55 349.99 L640.6 324 L643.03 302.3 L645.19 284.43 L646.97 271.05 L650.13 250.29 L652.35 233.91 L653.12 229.5 L653.73 226.56 L654.48 223.6 L655.45 220.77 L656.08 219.45 L657.01 218.33 L657.57 217.87 L658.14 217.59 L658.7 217.5 L659.24 217.59 L659.79 217.87 L660.33 218.33 L660.88 218.97 L661.58 220.16 L662.58 222.96 L663.33 225.91 L664.23 230.33 L665 234.75 L665.88 240.69 L667.52 254.11 L668.75 266.05 L669.71 276.51 L671.81 301.92 L676.19 348.22 L677.79 361.61 L678.67 367.55 L679.91 374.96 L681.85 385.27 L683.47 392.59 L685.68 401.32 L689.57 415.81 L692.04 424.47 L694.71 433.08 L696.23 437.31 L697.99 441.45 L699.3 444.17 L700.72 446.82 L703.86 451.9 L707.43 456.82 L710.36 460.29 L713.46 463.43 L717.96 467.31 L722.85 470.93 L727.98 474.21 L733 477 L738.58 479.71 L744.16 482.06 L749.85 484.07 L752.71 484.92 L758.46 486.43 L767.21 488.44 L774.62 489.77 L781.5 490.6 L782.8 509.2 L118.2 509.2 Z" fill="url(#g10)" stroke="none"/>
<path d="M118.5 509 L148.5 508.91 L186 508.63 L216 508.32 L240 507.9 L259.49 507.41 L272.98 506.94 L284.97 506.23 L298.42 505.14 L308.85 504.01 L320.74 502.23 L335.49 499.51 L341.39 498.24 L345.78 497.15 L350.1 495.93 L353 495 L357.22 493.48 L360.12 492.29 L362.96 490.99 L365.66 489.56 L368.14 488.01 L370.31 486.33 L372.27 484.39 L374.11 482.14 L375.83 479.67 L377.46 477.03 L379.74 472.89 L383.95 464.74 L385.92 460.71 L387.79 456.6 L389.55 452.43 L391.73 446.82 L393.24 442.59 L394.64 438.32 L397 430 L398.56 423.82 L399.53 419.42 L400.46 413.52 L401.56 404.6 L402.45 395.63 L404.03 377.68 L405.19 362.73 L406.99 337.29 L408.78 307.32 L409.92 293.89 L410.74 287.96 L413.27 273.16 L416.34 250.86 L418.47 237.52 L419.38 233.12 L420.12 230.52 L420.59 229.38 L421.06 228.56 L421.53 228.06 L422 227.9 L422.5 228.06 L423.12 228.72 L423.81 230.05 L424.33 231.46 L425.06 234.36 L425.92 238.77 L427.07 246.2 L427.88 252.14 L430.29 273 L432.38 289.38 L433 295 L433.71 302.81 L435.87 331.23 L437.4 349.17 L441.17 389.49 L442.52 402.93 L443.69 413.36 L444.85 422.28 L445.99 429.7 L447.82 440.06 L449.31 447.44 L451.07 454.71 L452.81 460.41 L454.96 466.05 L457.44 471.57 L461.59 479.54 L464.72 484.97 L466.42 487.59 L468.22 490.07 L470.13 492.33 L471.13 493.35 L473 495 L474.33 495.97 L476.79 497.51 L479.47 498.92 L482.3 500.21 L486.66 501.9 L489.54 502.86 L495.24 504.56 L502.57 506.45 L507.03 507.32 L510 507.73 L514.45 508.09 L524.91 508.61 L532.43 508.86 L539.95 508.99 L545.96 508.98 L550.48 508.85 L556.52 508.54 L562.54 508.08 L573 507 L575.82 506.55 L578.79 505.86 L581.75 504.97 L584.67 503.92 L587.5 502.75 L591.51 500.81 L593.96 499.43 L596.34 497.74 L598.65 495.77 L600.85 493.58 L603.91 490.05 L606.5 486.6 L608.2 484.03 L610.43 480.14 L612.47 476.07 L614.35 471.89 L616.61 466.31 L618.69 460.71 L620.13 456.44 L621.93 450.69 L623.55 444.89 L625.02 439.08 L626.66 431.76 L627.8 425.86 L628.8 419.95 L629.87 412.53 L637.55 349.99 L640.6 324 L643.03 302.3 L645.19 284.43 L646.97 271.05 L650.13 250.29 L652.35 233.91 L653.12 229.5 L653.73 226.56 L654.48 223.6 L655.45 220.77 L656.08 219.45 L657.01 218.33 L657.57 217.87 L658.14 217.59 L658.7 217.5 L659.24 217.59 L659.79 217.87 L660.33 218.33 L660.88 218.97 L661.58 220.16 L662.58 222.96 L663.33 225.91 L664.23 230.33 L665 234.75 L665.88 240.69 L667.52 254.11 L668.75 266.05 L669.71 276.51 L671.81 301.92 L676.19 348.22 L677.79 361.61 L678.67 367.55 L679.91 374.96 L681.85 385.27 L683.47 392.59 L685.68 401.32 L689.57 415.81 L692.04 424.47 L694.71 433.08 L696.23 437.31 L697.99 441.45 L699.3 444.17 L700.72 446.82 L703.86 451.9 L707.43 456.82 L710.36 460.29 L713.46 463.43 L717.96 467.31 L722.85 470.93 L727.98 474.21 L733 477 L738.58 479.71 L744.16 482.06 L749.85 484.07 L752.71 484.92 L758.46 486.43 L767.21 488.44 L774.62 489.77 L781.5 490.6" fill="none" stroke="#0e4d24" stroke-width="2.4" stroke-linejoin="round" stroke-linecap="round"/>
<path d="M117.4 509.2 L783.5 509.2" stroke="#000" stroke-width="1.6" fill="none"/>
<path d="M782.6 509.2 v-11" stroke="#000" stroke-width="1.2" fill="none"/>
<g font-family='"Liberation Sans", Arial, Helvetica, sans-serif' fill="#000">
<text transform="translate(4.4 33.2) scale(1 1.05)" font-size="41.5" font-weight="bold">(a)</text>
<text transform="translate(117.7 551.8) scale(1 1.035)" font-size="31" text-anchor="middle">0.1</text>
<text transform="translate(250.62 551.8) scale(1 1.035)" font-size="31" text-anchor="middle">0.2</text>
<text transform="translate(383.54 551.8) scale(1 1.035)" font-size="31" text-anchor="middle">0.3</text>
<text transform="translate(516.46 551.8) scale(1 1.035)" font-size="31" text-anchor="middle">0.4</text>
<text transform="translate(649.38 551.8) scale(1 1.035)" font-size="31" text-anchor="middle">0.5</text>
<text transform="translate(782.3 551.8) scale(1 1.035)" font-size="31" text-anchor="middle">0.6</text>
<text transform="translate(93.6 222.6) scale(1 1.035)" font-size="31.7" text-anchor="end">1.0</text>
<text transform="translate(100.2 374.5) scale(1 1.035)" font-size="31.5" text-anchor="end">0.5</text>
<text transform="translate(106 520.4) scale(1 1.035)" font-size="30.5" text-anchor="end">0.0</text>
<text transform="translate(706.79 257.32) scale(1 1.035)" font-size="22.19">2.0</text>
<text transform="translate(720.57 297.62) scale(1 1.035)" font-size="23.6">1.8</text>
<text transform="translate(735.21 341.77) scale(1 1.035)" font-size="25.15">1.6</text>
<text transform="translate(752.55 392.81) scale(1 1.035)" font-size="26.94">1.4</text>
<text transform="translate(771.2 451.64) scale(1 1.035)" font-size="28.99">1.2</text>
<text transform="translate(795.8 520.4) scale(1 1.035)" font-size="31.4">1.0</text>
<text transform="translate(339.8 608.5) scale(1 1.035)" font-size="35.4">Frequency (THz)</text>
<text transform="translate(41.7 526.8) rotate(-91.7) scale(1.054 1.035)" font-size="36.6">Transmission (a.u.)</text>
</g>
<rect x="1043.6" y="25.9" width="607.7" height="489.7" fill="#fdf2e9"/>
<path d="M1043.6 220.6 L1240 272.2 L1340 297.4 L1560 351.2 L1651.3 373 L1651.3 515.6 L1043.6 515.6 Z" fill="#edf3fb"/>
<g stroke="#000" stroke-width="1.4" fill="none">
<path d="M1043.6 59 h9.5"/>
<path d="M1043.6 189.3 h9.5"/>
<path d="M1043.6 319.2 h9.5"/>
<path d="M1043.6 450.3 h9.5"/>
<path d="M1165.3 515.6 v-9.5"/>
<path d="M1286.6 515.6 v-9.5"/>
<path d="M1407.9 515.6 v-9.5"/>
<path d="M1529.2 515.6 v-9.5"/>
</g>
<path d="M1651.3 25.9 L1043.6 25.9 L1043.6 515.6 L1651.3 515.6" stroke="#000" stroke-width="1.9" fill="none" stroke-linejoin="miter"/>
<path d="M1651.3 25 V516.5" stroke="#111" stroke-width="1.8" fill="none"/>
<g fill="none" stroke-width="3.6" stroke-linejoin="round">
<path d="M1044 59 L1165.3 150.5 L1286.6 213.5 L1407.9 267.6 L1529.2 307 L1650.5 345.1" stroke="#2d6b37"/>
<path d="M1044 59 L1165.3 138 L1286.6 195.3 L1407.9 244.6 L1529.2 286 L1650.5 325.6" stroke="#7f9b33"/>
<path d="M1044 59 L1165.3 127.4 L1286.6 179.4 L1407.9 227 L1529.2 267 L1650.5 306.1" stroke="#bdb732"/>
<path d="M1044 59 L1165.3 115.6 L1286.6 160.2 L1407.9 202.4 L1529.2 241.2 L1650.5 276" stroke="#edc431"/>
<path d="M1044 59 L1165.3 103 L1286.6 142 L1407.9 177.5 L1529.2 212.5 L1650.5 245.8" stroke="#f3a82c"/>
<path d="M1044 59 L1165.3 92.5 L1286.6 125 L1407.9 155.6 L1529.2 184.6 L1650.5 215.3" stroke="#f5812e"/>
<path d="M1044 294.2 L1165.3 346.5 L1286.6 385.8 L1407.9 424.5 L1529.2 450.7 L1650.5 476.7" stroke="#2d6b37"/>
<path d="M1044 294.2 L1165.3 336.5 L1286.6 378.8 L1407.9 407.3 L1529.2 436.8 L1650.5 462.7" stroke="#7f9b33"/>
<path d="M1044 294.2 L1165.3 329.6 L1286.6 367 L1407.9 393.3 L1529.2 423.1 L1650.5 450.7" stroke="#bdb732"/>
<path d="M1044 294.2 L1165.3 322.6 L1286.6 357.9 L1407.9 381.7 L1529.2 406.7 L1650.5 431.1" stroke="#edc431"/>
<path d="M1044 294.2 L1165.3 316.2 L1286.6 341 L1407.9 362.9 L1529.2 384.2 L1650.5 407.3" stroke="#f3a82c"/>
<path d="M1044 294.2 L1165.3 310.3 L1286.6 329.6 L1407.9 347.2 L1529.2 368.7 L1650.5 387.4" stroke="#f5812e"/>
</g>
<rect x="1669.3" y="24.2" width="17.2" height="84.4" fill="#f77b26"/>
<rect x="1669.3" y="108.3" width="17.2" height="80.9" fill="#f1aa27"/>
<rect x="1669.3" y="188.9" width="17.2" height="80.9" fill="#ecc52a"/>
<rect x="1669.3" y="269.5" width="17.2" height="84.8" fill="#b4b628"/>
<rect x="1669.3" y="354" width="17.2" height="81.8" fill="#6c902b"/>
<rect x="1669.3" y="435.5" width="17.2" height="80" fill="#1b5c2e"/>
<path d="M1669.3 515.4 h17.2" stroke="#111" stroke-width="1.4"/>
<path d="M1669.5 24.2 V515.8 M1686.3 24.2 V515.8" stroke="#4d4a20" stroke-opacity="0.55" stroke-width="0.8" fill="none"/>
<g font-family='"Liberation Sans", Arial, Helvetica, sans-serif' fill="#000">
<text transform="translate(925 32.9) scale(1 1.05)" font-size="41.5" font-weight="bold">(b)</text>
<text transform="translate(1033 67.9) scale(1 1.035)" font-size="29.5" text-anchor="end">0.5</text>
<text transform="translate(1033 198.2) scale(1 1.035)" font-size="29.5" text-anchor="end">0.4</text>
<text transform="translate(1033 328.1) scale(1 1.035)" font-size="29.5" text-anchor="end">0.3</text>
<text transform="translate(1033 459.2) scale(1 1.035)" font-size="29.5" text-anchor="end">0.2</text>
<text transform="translate(1044.5 549.1) scale(1 1.035)" font-size="29.5" text-anchor="middle">1.0</text>
<text transform="translate(1165.8 549.1) scale(1 1.035)" font-size="29.5" text-anchor="middle">1.2</text>
<text transform="translate(1287.1 549.1) scale(1 1.035)" font-size="29.5" text-anchor="middle">1.4</text>
<text transform="translate(1408.4 549.1) scale(1 1.035)" font-size="29.5" text-anchor="middle">1.6</text>
<text transform="translate(1529.7 549.1) scale(1 1.035)" font-size="29.5" text-anchor="middle">1.8</text>
<text transform="translate(1651 549.1) scale(1 1.035)" font-size="29.5" text-anchor="middle">2.0</text>
<text transform="translate(1334 81.5) scale(1 1.035)" font-size="41.4">Anapole sensing</text>
<text transform="translate(1060.5 490) scale(1 1.035)" font-size="41.3">QBIC sensing</text>
<text transform="translate(1170.6 602) scale(1 1.035)" font-size="35.8">Refractive index (RIU)</text>
<text transform="translate(960.4 438.2) rotate(-90) scale(1.004 1.035)" font-size="35.7" word-spacing="1.2">Resonance peak (THz)</text>
<text transform="translate(1697.5 78.8) scale(1 1.035)" font-size="31.4">30 µm</text>
<text transform="translate(1697.5 161.9) scale(1 1.035)" font-size="31.4">40 µm</text>
<text transform="translate(1697.5 242.4) scale(1 1.035)" font-size="31.4">55 µm</text>
<text transform="translate(1697.5 324.1) scale(1 1.035)" font-size="31.4">70 µm</text>
<text transform="translate(1697.5 405.8) scale(1 1.035)" font-size="31.4">85 µm</text>
<text transform="translate(1697.5 486.8) scale(1 1.035)" font-size="31.4">100</text>
<text transform="translate(1697.5 525.9) scale(1 1.035)" font-size="31.4">µm</text>
</g>
<g font-family='"Liberation Serif", "Times New Roman", Times, serif'>
<text transform="translate(1129.4 194.2) rotate(20) skewX(-3)" font-size="38.8" fill="#ff1a1a">220 GHz/RIU</text>
<text transform="translate(1153.6 394.6) rotate(15.2) skewX(-6)" font-size="38.4" fill="#1a1ae6">150 GHz/RIU</text>
</g>
</svg>
<div class="pt" style="font-size:64.0px;line-height:73.54px;height:73.54px;transform:matrix3d(0.27352867,-0.21291633,0,0.0005627559,0.93486811,0,0,-1.0455211e-18,0,0,1,0,823.66495,451.39247,0,1)">Refractive index</div>
</div>
</body></html>
